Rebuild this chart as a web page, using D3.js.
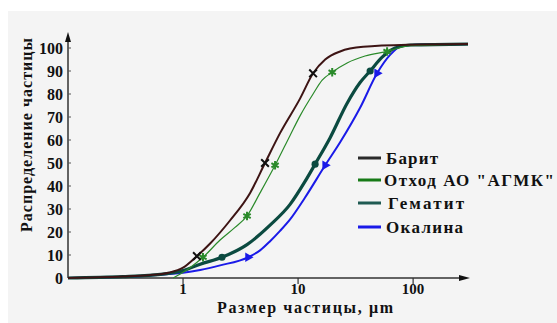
<!DOCTYPE html>
<html>
<head>
<meta charset="utf-8">
<script src="https://cdn.jsdelivr.net/npm/d3@7"></script>
<style>
  body { margin: 0; background: #fff; }
</style>
</head>
<body>
<svg width="557" height="323"></svg>
<script>
// particle size, um  /  cumulative distribution, %
var barite = [[0.1, 0], [0.3, 0.6], [0.5, 1.2], [0.75, 2.3], [1, 4.5], [1.32, 9.5], [1.72, 15], [2.56, 25], [3.83, 37], [5.16, 50], [6.97, 63], [10.4, 78], [13.5, 89], [17.2, 95], [23.2, 98.5], [36.8, 100.5], [94, 101.4], [300, 101.7]];
var waste = [[0.82, 0], [1, 2.5], [1.15, 4.5], [1.49, 9], [2.1, 16.5], [2.83, 22], [3.6, 27], [4.67, 37], [6.31, 49], [8.52, 62], [10.4, 70.5], [13.5, 80], [16.2, 86], [19.8, 89.5], [26.7, 93.5], [38.2, 96.5], [59.4, 98.5], [94, 101], [300, 101.7]];
var hematite = [[0.1, 0], [0.3, 0.6], [0.5, 1.1], [0.75, 2], [1, 3.2], [1.41, 6], [2.18, 9], [3.6, 14.5], [5.71, 23], [8.52, 32], [11.5, 42], [14.06, 49.5], [19, 61], [26.7, 76], [34.6, 85], [42.3, 90], [53.8, 96], [69.7, 100], [94, 101.3], [300, 101.7]];
var scale = [[0.1, 0], [0.3, 0.5], [0.5, 1], [0.75, 1.7], [1, 2.3], [1.41, 3.5], [2.1, 5.5], [3.67, 9], [4.67, 12], [5.71, 16], [6.97, 20.5], [8.52, 25.5], [11.5, 35], [17.2, 49], [23.2, 59], [34.6, 74], [48.6, 89], [63.1, 97], [77.1, 100.5], [104, 101.4], [300, 101.7]];

var baritePts = [[1.32, 9.5], [5.16, 50], [13.5, 89]];
var wastePts = [[1.49, 9], [3.6, 27], [6.31, 49], [19.8, 89.5], [59.4, 98.5]];
var hematitePts = [[2.18, 9], [14.06, 49.5], [42.3, 90]];
var scalePts = [[3.67, 9], [17.2, 49], [48.6, 89]];

var names = ['Барит', 'Отход АО "АГМК"', 'Гематит', 'Окалина'];
var yTicks = [0, 10, 20, 30, 40, 50, 60, 70, 80, 90, 100];
var xTicks = [1, 10, 100];

var svg = d3.select('svg');

// grey panel
svg.append('rect')
    .attr('x', 8).attr('y', 11)
    .attr('width', 549).attr('height', 312)
    .attr('fill', '#f4f4f4');

var xScale = d3.scaleLog().domain([0.1, 300]).range([68, 468]);
var yScale = d3.scaleLinear().domain([0, 100]).range([278, 48]);

//y-axis line with arrow
svg.append('line')
    .attr('x1', 68).attr('x2', 68)
    .attr('y1', 278).attr('y2', 38)
    .attr('stroke', '#333').attr('stroke-width', 1.5);
svg.append('path')
    .attr('d', 'M68,32 L65,42 L71,42 Z')
    .attr('fill', '#111');

//x-axis line with arrow
svg.append('line')
    .attr('x1', 68).attr('x2', 462)
    .attr('y1', 278).attr('y2', 278)
    .attr('stroke', '#333').attr('stroke-width', 1.5);
svg.append('path')
    .attr('d', 'M470,278 L459,275 L459,281 Z')
    .attr('fill', '#111');

//y ticks
var yT = svg.append('g');
yT.selectAll('line').data(yTicks).enter().append('line')
    .attr('x1', 68).attr('x2', 71)
    .attr('y1', d => yScale(d)).attr('y2', d => yScale(d))
    .attr('stroke', '#555');
yT.selectAll('text').data(yTicks).enter().append('text')
    .attr('x', 63)
    .attr('y', d => yScale(d) + 6)
    .attr('text-anchor', 'end')
    .style('font-size', '16px')
    .text(d => d);

//x ticks
var xT = svg.append('g');
xT.selectAll('line').data(xTicks).enter().append('line')
    .attr('x1', d => xScale(d)).attr('x2', d => xScale(d))
    .attr('y1', 278).attr('y2', 284)
    .attr('stroke', '#333').attr('stroke-width', 1.2);
xT.selectAll('text').data(xTicks).enter().append('text')
    .attr('x', d => xScale(d))
    .attr('y', 294)
    .attr('text-anchor', 'middle')
    .style('font-size', '15px')
    .text(d => d);

//axis labels
svg.append('text')
    .attr('transform', 'translate(32,135) rotate(-90)')
    .attr('text-anchor', 'middle')
    .attr('textLength', 194)
    .style('font-size', '16px')
    .text('Распределение частицы');
svg.append('text')
    .attr('x', 305).attr('y', 313)
    .attr('text-anchor', 'middle')
    .attr('textLength', 176)
    .style('font-size', '16px')
    .text('Размер частицы, μm');

var line = d3.line()
    .x(d => xScale(d[0]))
    .y(d => yScale(d[1]))
    .curve(d3.curveMonotoneX);

var series = [
    { data: scale, pts: scalePts, color: '#1a1ae8', width: 2, sym: d3.symbolTriangle, size: 40 },
    { data: hematite, pts: hematitePts, color: '#0b4a40', width: 3.2, sym: d3.symbolCircle, size: 40 },
    { data: waste, pts: wastePts, color: '#2a8a2a', width: 1.2, sym: d3.symbolAsterisk, size: 50 },
    { data: barite, pts: baritePts, color: '#3d1414', width: 2, sym: d3.symbolTimes, size: 40 }
];

series.forEach(function (s) {
    svg.append('path')
        .attr('d', line(s.data))
        .attr('fill', 'none')
        .attr('stroke', s.color)
        .attr('stroke-width', s.width);
    svg.append('g').selectAll('path').data(s.pts).enter().append('path')
        .attr('transform', d => 'translate(' + [xScale(d[0]), yScale(d[1])] + ')' + (s.sym === d3.symbolTriangle ? ' rotate(-30)' : ''))
        .attr('d', d3.symbol().type(s.sym).size(s.size))
        .attr('fill', s.color)
        .attr('stroke', s.sym === d3.symbolTimes ? '#111' : (s.sym === d3.symbolAsterisk ? s.color : 'none'))
        .attr('stroke-width', 2);
});

//legend
var legendColors = ['#2a2a2a', '#177a17', '#1f5a52', '#1a1ae8'];
var legendY = [158, 180, 203, 227];
var legendX = [386, 384, 388, 386];
var legendW = [52, 170, 76, 77];
var lg = svg.append('g');
names.forEach(function (n, i) {
    lg.append('line')
        .attr('x1', 358).attr('x2', 381)
        .attr('y1', legendY[i]).attr('y2', legendY[i])
        .attr('stroke', legendColors[i]).attr('stroke-width', 3);
    lg.append('text')
        .attr('x', legendX[i]).attr('y', legendY[i] + 6)
        .attr('textLength', legendW[i])
        .style('font-size', '17px')
        .text(n);
});

svg.selectAll('text')
    .style('font-family', '"Liberation Serif"')
    .style('font-weight', 'bold')
    .style('fill', '#111');
</script>
</body>
</html>
